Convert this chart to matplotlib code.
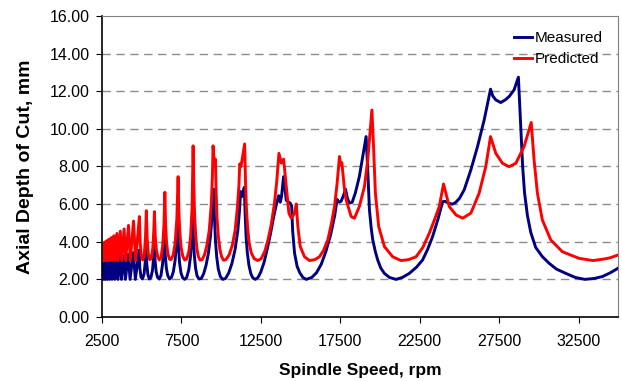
import matplotlib
matplotlib.use("Agg")
import matplotlib.pyplot as plt
from matplotlib.ticker import FormatStrFormatter

plt.rcParams['font.family'] = ['Liberation Sans', 'DejaVu Sans']

# Measured stability boundary (rpm, mm)
meas_rpm = [2500, 2540, 2580, 2655, 2700, 2780, 2830, 2918, 2975, 3070, 3130,
            3240, 3305, 3428, 3500, 3640, 3725, 3880, 3975, 4155, 4265, 4470,
            4600, 4835, 4880, 4960, 5050, 5150, 5230, 5270, 5320, 5390, 5480,
            5580, 5680, 5750, 5790, 5840, 5910, 6000, 6100, 6210, 6310, 6380,
            6430, 6480, 6550, 6640, 6750, 6870, 6990, 7100, 7200, 7260, 7310,
            7380, 7470, 7580, 7700, 7830, 7960, 8070, 8150, 8200, 8250, 8310,
            8390, 8480, 8600, 8750, 8900, 9050, 9200, 9330, 9440, 9535, 9580,
            9640, 9720, 9820, 9950, 10100, 10280, 10480, 10680, 10880, 11050,
            11160, 11220, 11300, 11460, 11510, 11570, 11650, 11750, 11870,
            12000, 12150, 12320, 12500, 12700, 12900, 13100, 13300, 13480,
            13620, 13720, 13800, 13930, 14100, 14350, 14440, 14500, 14620,
            14780, 14950, 15150, 15360, 15700, 16000, 16300, 16600, 16900,
            17150, 17300, 17430, 17550, 17700, 17830, 17950, 18080, 18250,
            18450, 18700, 18950, 19125, 19230, 19335, 19450, 19545, 19700,
            19855, 20050, 20275, 20600, 21010, 21400, 21850, 22300, 22680,
            23000, 23310, 23650, 23940, 24100, 24300, 24550, 24750, 25000,
            25300, 25720, 26140, 26560, 26960, 27100, 27290, 27600, 27900,
            28130, 28440, 28713, 28860, 28980, 29100, 29280, 29490, 29800,
            30220, 30640, 31100, 31690, 32300, 32900, 33500, 34000, 34500,
            35000]
meas_depth = [2.30, 2.85, 2.00, 2.88, 2.00, 2.92, 2.00, 2.95, 2.00, 3.00, 2.00,
              3.05, 2.00, 3.10, 2.00, 3.17, 2.00, 3.25, 2.00, 3.33, 2.00, 3.42,
              2.00, 3.55, 2.60, 2.10, 2.02, 2.30, 3.00, 3.75, 2.80, 2.25, 2.02,
              2.10, 2.50, 3.20, 3.95, 3.00, 2.40, 2.10, 2.02, 2.20, 2.80, 3.50,
              4.45, 3.30, 2.60, 2.20, 2.02, 2.10, 2.40, 3.00, 4.00, 5.00, 3.80,
              2.90, 2.35, 2.08, 2.00, 2.10, 2.50, 3.20, 4.20, 5.67, 4.30, 3.30,
              2.60, 2.20, 2.02, 2.05, 2.30, 2.75, 3.40, 4.30, 5.50, 6.79, 5.30,
              4.10, 3.20, 2.55, 2.15, 2.00, 2.05, 2.35, 2.85, 3.60, 4.60,
              5.70, 6.67, 6.40, 6.90, 5.50, 4.30, 3.40, 2.75, 2.30,
              2.07, 2.00, 2.10, 2.40, 2.90, 3.60, 4.40, 5.30, 6.00,
              6.45, 6.10, 6.40, 7.46, 6.20, 6.05, 5.90, 4.60, 3.40,
              2.70, 2.35, 2.10, 2.00, 2.10, 2.35, 2.80, 3.50, 4.40,
              5.40, 6.25, 6.10, 6.15, 6.45, 6.79, 6.30, 6.05, 6.10,
              6.60, 7.46, 8.70, 9.59, 7.80, 5.70, 4.70, 4.10, 3.50,
              3.03, 2.60, 2.32, 2.10, 2.00, 2.10, 2.32, 2.65, 3.03,
              3.60, 4.27, 5.20, 6.13, 6.15, 6.05, 6.00, 6.08, 6.30,
              6.76, 7.82, 9.06, 10.48, 12.11, 11.75, 11.54, 11.40, 11.55,
              11.72, 12.07, 12.75, 10.10, 8.00, 6.60, 5.40, 4.50, 3.70,
              3.21, 2.86, 2.55, 2.32, 2.10, 2.00, 2.05, 2.15, 2.35,
              2.60]

# Predicted stability boundary (rpm, mm)
pred_rpm = [2500, 2545, 2590, 2660, 2710, 2786, 2840, 2924, 2985, 3077, 3145,
            3247, 3320, 3436, 3515, 3650, 3740, 3891, 3990, 4167, 4280, 4484,
            4615, 4854, 4900, 4970, 5060, 5160, 5240, 5290, 5340, 5410, 5500,
            5600, 5700, 5760, 5800, 5850, 5920, 6010, 6110, 6220, 6320, 6400,
            6457, 6500, 6560, 6640, 6740, 6850, 6980, 7100, 7210, 7290, 7340,
            7400, 7480, 7580, 7700, 7830, 7970, 8080, 8170, 8235, 8280, 8330,
            8400, 8480, 8570, 8680, 8800, 8950, 9100, 9250, 9380, 9450, 9490,
            9570, 9640, 9680, 9740, 9820, 9920, 10030, 10150, 10300, 10500,
            10700, 10880, 11020, 11120, 11170, 11250, 11480, 11530, 11590,
            11670, 11770, 11900, 12080, 12300, 12520, 12750, 12950, 13150,
            13350, 13500, 13637, 13790, 13932, 14100, 14265, 14416, 14620,
            14730, 14830, 14980, 15250, 15565, 15900, 16190, 16450, 16715,
            16950, 17135, 17300, 17450, 17520, 17600, 17750, 17870, 18185,
            18390, 18700, 19020, 19230, 19490, 19585, 19710, 19920, 20280,
            20800, 21325, 21800, 22270, 22700, 23100, 23400, 23730, 24000,
            24360, 24780, 25200, 25720, 26240, 26660, 26960, 27290, 27710,
            28130, 28550, 29070, 29520, 29700, 29910, 30220, 30750, 31480,
            32525, 33400, 34100, 34500, 35000]
pred_depth = [3.50, 3.90, 3.00, 3.98, 3.00, 4.05, 3.00, 4.13, 3.00, 4.22, 3.00,
              4.32, 3.00, 4.44, 3.00, 4.56, 3.00, 4.68, 3.00, 4.87, 3.00, 5.10,
              3.00, 5.34, 4.00, 3.30, 3.03, 3.30, 4.30, 5.65, 4.20, 3.40, 3.05,
              3.10, 3.70, 4.60, 5.60, 4.30, 3.60, 3.20, 3.03, 3.20, 3.80, 4.90,
              6.63, 5.00, 4.00, 3.40, 3.08, 3.05, 3.30, 3.90, 5.20, 7.46, 5.60,
              4.50, 3.70, 3.25, 3.03, 3.08, 3.50, 4.30, 5.80, 9.10, 7.00, 5.40,
              4.30, 3.60, 3.20, 3.02, 3.05, 3.30, 3.80, 4.60, 6.00, 7.50, 9.10,
              8.20, 8.39, 6.80, 5.30, 4.30, 3.60, 3.20, 3.02, 3.05, 3.30,
              3.80, 4.60, 5.80, 7.00, 8.14, 8.00, 9.20, 7.30, 5.80,
              4.70, 3.90, 3.40, 3.10, 3.00, 3.10, 3.50, 4.10, 4.90,
              6.00, 7.20, 8.70, 8.18, 8.39, 6.93, 5.52, 5.25, 5.52,
              6.01, 4.80, 3.74, 3.20, 3.00, 3.05, 3.20, 3.55, 4.10,
              5.00, 5.87, 7.10, 8.53, 8.10, 8.20, 6.90, 6.22, 5.34,
              5.25, 5.87, 6.93, 8.35, 11.00, 9.24, 6.58, 4.80, 3.74,
              3.20, 3.00, 3.05, 3.20, 3.70, 4.45, 5.10, 5.87, 7.07,
              5.87, 5.43, 5.25, 5.52, 6.58, 8.00, 9.59, 8.70, 8.17,
              7.99, 8.17, 9.06, 10.34, 8.35, 6.58, 5.16, 4.10, 3.47,
              3.12, 3.00, 3.08, 3.15, 3.30]

x_ticks = [2500, 7500, 12500, 17500, 22500, 27500, 32500]
y_ticks = [0, 2, 4, 6, 8, 10, 12, 14, 16]

fig = plt.figure(figsize=(6.22, 3.81), dpi=100)
ax = fig.add_axes([0.164, 0.168, 0.83, 0.79])

ax.plot(meas_rpm, meas_depth, color='#000080', lw=2.1, label='Measured')
ax.plot(pred_rpm, pred_depth, color='#FF0000', lw=2.1, label='Predicted')

ax.set_xlim(2500, 35000)
ax.set_ylim(0, 16)
ax.set_xticks(x_ticks)
ax.set_yticks(y_ticks)
ax.yaxis.set_major_formatter(FormatStrFormatter('%.2f'))
ax.tick_params(labelsize=11.5, direction='out', length=4, colors='black')
ax.tick_params(axis='x', pad=8)
ax.tick_params(axis='y', pad=5)

for y in y_ticks[1:-1]:
    ax.axhline(y, color='#8c8c8c', lw=1.0, ls=(0, (6, 4)), zorder=0)

ax.spines['top'].set_color('#808080')
ax.spines['right'].set_color('#808080')
ax.spines['left'].set_linewidth(1.2)
ax.spines['bottom'].set_linewidth(1.2)

ax.set_xlabel('Spindle Speed, rpm', fontsize=12.5, fontweight='bold', labelpad=10)
ax.set_ylabel('Axial Depth of Cut, mm', fontsize=14, fontweight='bold', labelpad=11)

ax.legend(loc='upper right', frameon=False, fontsize=11, handlelength=1.2,
          handletextpad=0.2, labelspacing=0.45, borderaxespad=0.6)

fig.savefig('out.png', dpi=100)
